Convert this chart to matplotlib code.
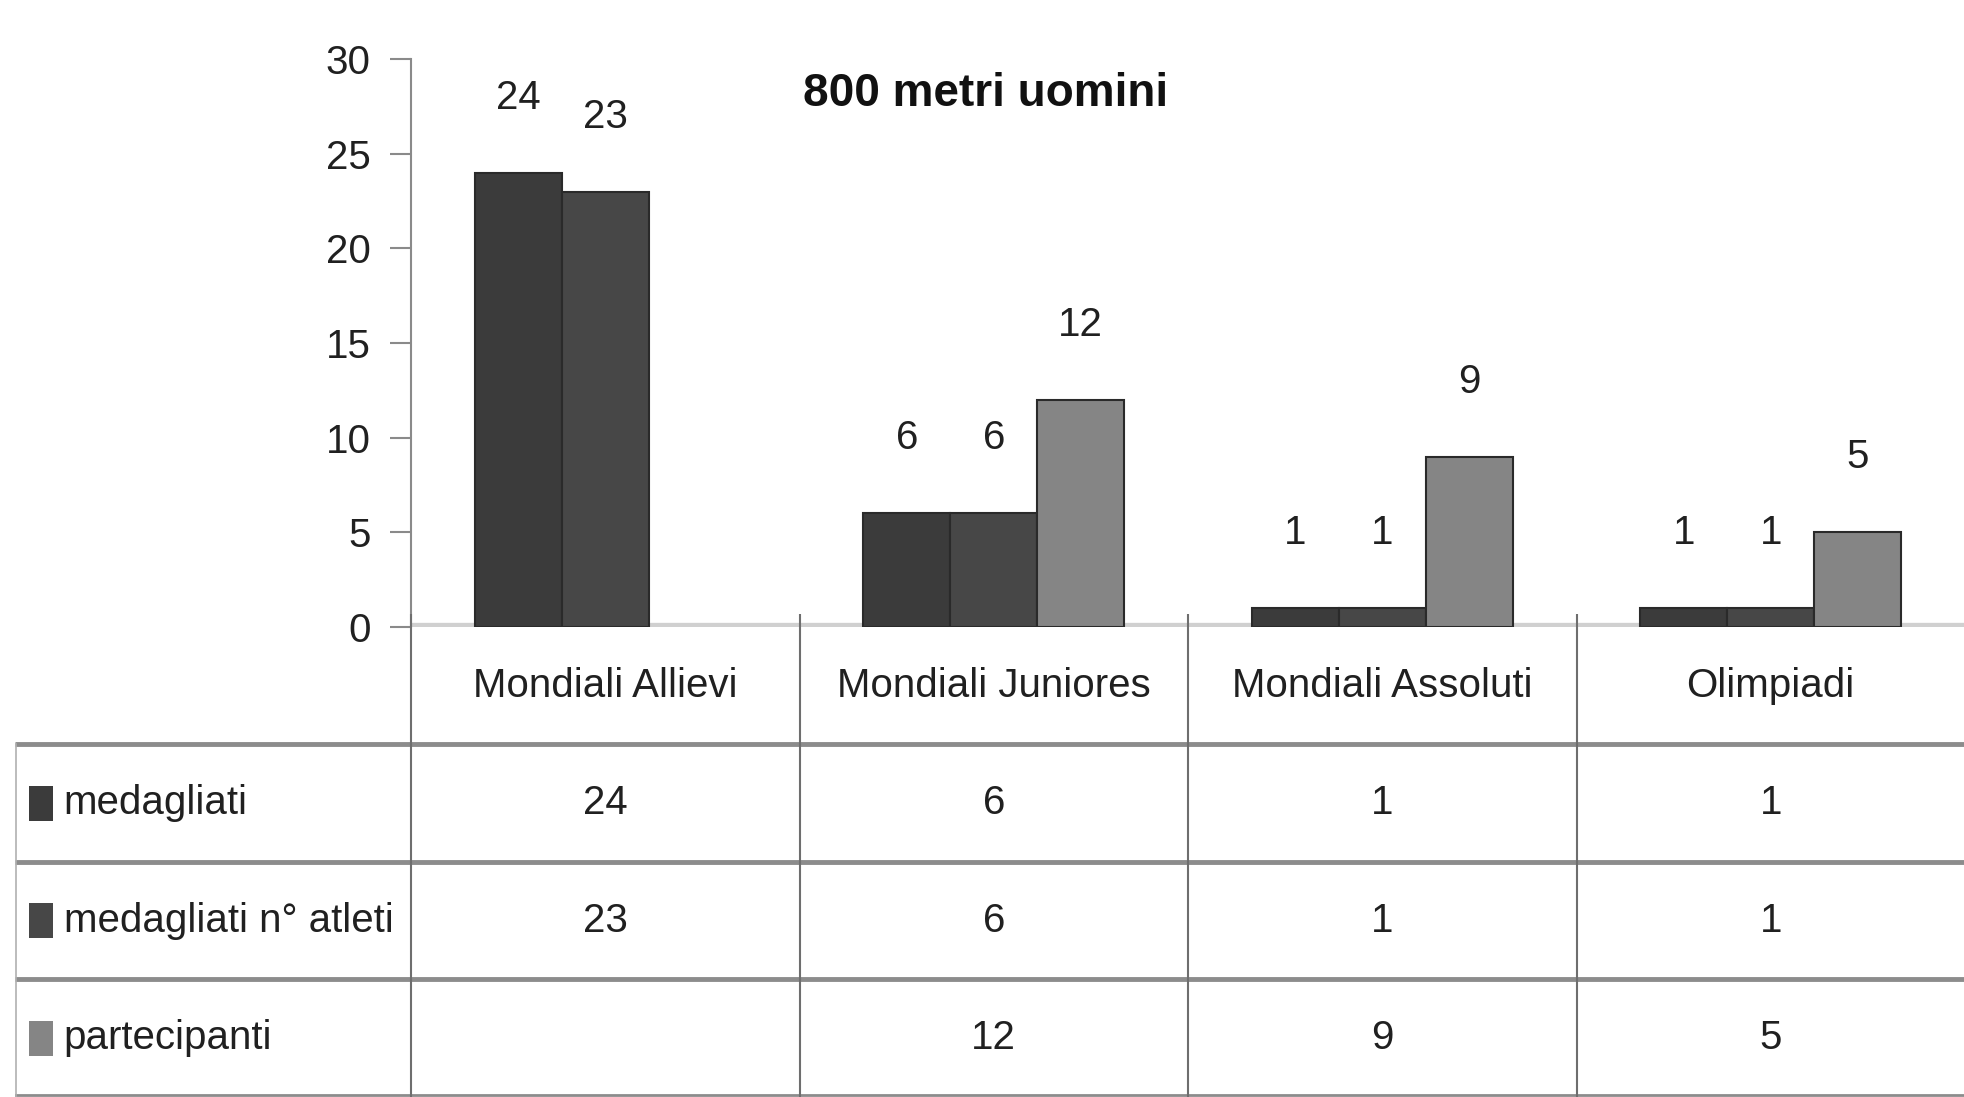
import matplotlib
matplotlib.use("Agg")
import matplotlib.pyplot as plt
import numpy as np
from matplotlib.patches import Rectangle

CATEGORIES = ["Mondiali Allievi", "Mondiali Juniores", "Mondiali Assoluti", "Olimpiadi"]
SERIES = ["medagliati", "medagliati n° atleti", "partecipanti"]
MEDAGLIATI = [24, 6, 1, 1]
MEDAGLIATI_ATLETI = [23, 6, 1, 1]
PARTECIPANTI = [np.nan, 12, 9, 5]
COLORS = ["#3b3b3b", "#474747", "#858585"]
TITLE = "800 metri uomini"
YTICKS = [0, 5, 10, 15, 20, 25, 30]

W, H = 1965, 1097
FS = 29

plt.rcParams["font.family"] = ["Liberation Sans", "DejaVu Sans"]

fig = plt.figure(figsize=(W / 100, H / 100), dpi=100)
fig.patch.set_facecolor("white")

# chart area
ax = fig.add_axes([411 / W, 1 - 627 / H, (W - 411) / W, (627 - 59) / H])
ax.set_xlim(-0.5, 3.5)
ax.set_ylim(0, 30)
for side in ["top", "right", "bottom"]:
    ax.spines[side].set_visible(False)
ax.spines["left"].set_color("#8a8a8a")
ax.spines["left"].set_linewidth(1.5)
ax.set_xticks([])
ax.set_yticks(YTICKS)
ax.tick_params(axis="y", length=15, width=1.5, color="#8a8a8a", labelsize=FS, pad=14, labelcolor="#202020")
ax.axhline(0, color="#d0d0d0", lw=6, zorder=1)

series_values = [MEDAGLIATI, MEDAGLIATI_ATLETI, PARTECIPANTI]
x = np.arange(len(CATEGORIES))
width = 0.224
offsets = [-width, 0.0, width]
for vals, off, color in zip(series_values, offsets, COLORS):
    vals = np.array(vals, dtype=float)
    mask = ~np.isnan(vals)
    bars = ax.bar(x[mask] + off, vals[mask], width, color=color,
                  edgecolor="#2a2a2a", linewidth=1.5, zorder=2)
    for bar, v in zip(bars, vals[mask]):
        ax.annotate(f"{int(v)}", (bar.get_x() + bar.get_width() / 2, v),
                    xytext=(0, 54), textcoords="offset points",
                    ha="center", va="center", fontsize=FS, color="#202020")

fig.text(986 / W, 1 - 94 / H, TITLE, ha="center", va="center",
         fontsize=33, fontweight="bold", color="#111111")

# data table below the chart
tab = fig.add_axes([15 / W, 0, (W - 15) / W, (H - 614) / H])
x_left = -0.5 - (411 - 15) / 388.5
tab.set_xlim(x_left, 3.5)
tab.set_ylim(4, -0.11)
tab.axis("off")

for r in [1, 2, 3]:
    tab.plot([x_left, 3.5], [r, r], color="#8c8c8c", lw=3.5, solid_capstyle="butt")
tab.plot([x_left, 3.5], [3.985, 3.985], color="#8c8c8c", lw=2)
tab.plot([x_left + 0.003, x_left + 0.003], [1, 4], color="#b0b0b0", lw=1.2)
for b in [-0.5, 0.5, 1.5, 2.5]:
    tab.plot([b, b], [-0.11, 4], color="#6e6e6e", lw=1.5)

for i, cat in enumerate(CATEGORIES):
    tab.text(i, 0.5, cat, ha="center", va="center", fontsize=FS, color="#202020")

for r, (name, vals, color) in enumerate(zip(SERIES, series_values, COLORS)):
    yc = r + 1.5
    tab.add_patch(Rectangle((x_left + 0.035, yc - 0.15), 0.064, 0.3,
                            facecolor=color, edgecolor="none"))
    tab.text(x_left + 0.125, yc, name, ha="left", va="center", fontsize=FS, color="#202020")
    for i, v in enumerate(vals):
        if not np.isnan(v):
            tab.text(i, yc, f"{int(v)}", ha="center", va="center", fontsize=FS, color="#202020")

fig.savefig("out.png", dpi=100)
